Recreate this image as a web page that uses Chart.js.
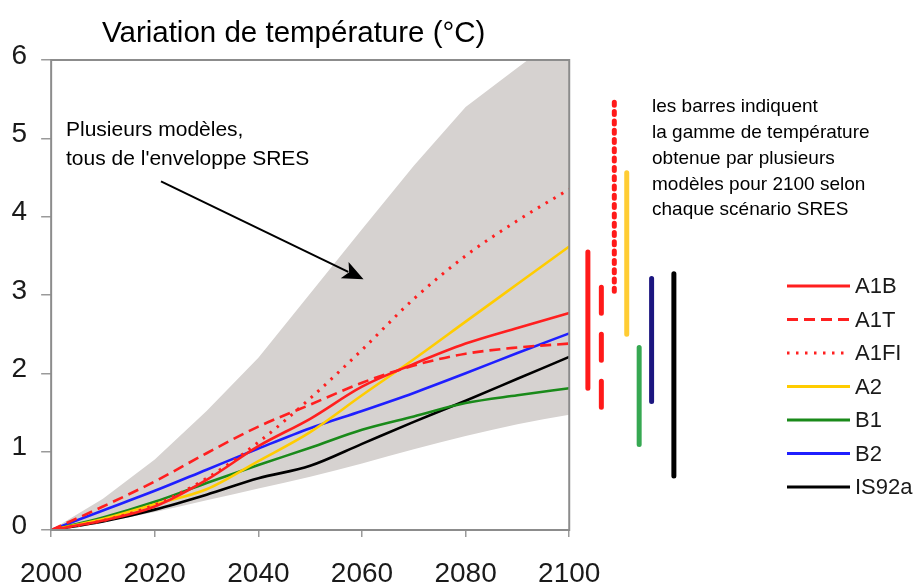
<!DOCTYPE html>
<html><head><meta charset="utf-8">
<script src="https://cdn.jsdelivr.net/npm/chart.js@4.4.1/dist/chart.umd.min.js"></script>
<style>html,body{margin:0;padding:0;background:#fff;}#wrap{position:relative;width:919px;height:586px;}</style>
</head><body><div id="wrap"><canvas id="c"></canvas></div>
<script>
// ---- data ----
const years = [2000, 2010, 2020, 2030, 2040, 2050, 2060, 2070, 2080, 2090, 2100];
const envelopeHigh = [0, 0.4, 0.9, 1.52, 2.2, 3.02, 3.84, 4.65, 5.4, 5.9, 6.4];
const envelopeLow  = [0, 0.1, 0.23, 0.38, 0.53, 0.68, 0.85, 1.03, 1.2, 1.35, 1.47];
const seriesA1B   = [0, 0.12, 0.30, 0.64, 1.07, 1.42, 1.83, 2.12, 2.38, 2.58, 2.77];
const seriesA1T   = [0, 0.30, 0.62, 0.98, 1.32, 1.60, 1.88, 2.10, 2.25, 2.33, 2.38];
const seriesA1FI  = [0, 0.12, 0.32, 0.66, 1.12, 1.68, 2.30, 2.95, 3.50, 3.95, 4.35];
const seriesA2    = [0, 0.14, 0.33, 0.52, 0.88, 1.25, 1.72, 2.18, 2.66, 3.14, 3.62];
const seriesB1    = [0, 0.16, 0.36, 0.60, 0.83, 1.05, 1.28, 1.45, 1.62, 1.72, 1.81];
const seriesB2    = [0, 0.25, 0.50, 0.77, 1.04, 1.30, 1.52, 1.75, 2.00, 2.26, 2.51];
const seriesIS92a = [0, 0.11, 0.26, 0.45, 0.66, 0.82, 1.10, 1.38, 1.65, 1.93, 2.21];
const scenarioNames = ['A1B', 'A1T', 'A1FI', 'A2', 'B1', 'B2', 'IS92a'];
// 2100 model ranges per scenario (bars right of the plot), x = position on year axis
const rangeYear = [2103.6, 2106.2, 2108.7, 2111.1, 2113.5, 2115.9, 2120.2];
const rangeLow  = [1.81, 1.47, 3.01, 2.50, 1.09, 1.64, 0.69];
const rangeHigh = [3.55, 3.10, 5.46, 4.56, 2.33, 3.21, 3.27];
const xTickValues = [2000, 2020, 2040, 2060, 2080, 2100];
const yTickValues = [0, 1, 2, 3, 4, 5, 6];
const titleText = 'Variation de température (°C)';
const noteLeft = ['Plusieurs modèles,', "tous de l'enveloppe SRES"];
const noteRight = ['les barres indiquent', 'la gamme de température', 'obtenue par plusieurs', 'modèles pour 2100 selon', 'chaque scénario SRES'];

// ---- styles ----
const FONT = '"Liberation Sans", Arial, sans-serif';
const lineStyles = {
  A1B:   {color: '#ff1f1f', dash: [], cap: 'butt'},
  A1T:   {color: '#ff1f1f', dash: [11, 6], cap: 'butt'},
  A1FI:  {color: '#ff1f1f', dash: [2.5, 6.5], cap: 'butt'},
  A2:    {color: '#ffcc00', dash: [], cap: 'butt'},
  B1:    {color: '#1a8a1a', dash: [], cap: 'butt'},
  B2:    {color: '#1f1fff', dash: [], cap: 'butt'},
  IS92a: {color: '#000000', dash: [], cap: 'butt'}
};
const barStyles = {
  A1B:   {color: '#ff1a1a', dash: []},
  A1T:   {color: '#ff1a1a', dash: [26, 21]},
  A1FI:  {color: '#ff1a1a', dash: [3, 6.3]},
  A2:    {color: '#ffcc33', dash: []},
  B1:    {color: '#36a852', dash: []},
  B2:    {color: '#1c1680', dash: []},
  IS92a: {color: '#000000', dash: []}
};
const seriesData = {A1B: seriesA1B, A1T: seriesA1T, A1FI: seriesA1FI, A2: seriesA2, B1: seriesB1, B2: seriesB2, IS92a: seriesIS92a};

const pts = arr => years.map((y, i) => ({x: y, y: arr[i]}));

const datasets = [];
datasets.push({label: 'envHigh', data: pts(envelopeHigh), borderWidth: 0, pointRadius: 0, fill: false, order: 100});
datasets.push({label: 'envLow', data: pts(envelopeLow), borderWidth: 0, pointRadius: 0, fill: '-1', backgroundColor: '#d6d2d0', order: 99, cubicInterpolationMode: 'monotone'});
scenarioNames.forEach(n => {
  datasets.push({label: n, data: pts(seriesData[n]), borderColor: lineStyles[n].color, borderDash: lineStyles[n].dash,
    borderWidth: n === 'A1FI' ? 3 : 2.6, pointRadius: 0, fill: false, cubicInterpolationMode: 'monotone', borderCapStyle: lineStyles[n].cap});
});
scenarioNames.forEach((n, i) => {
  datasets.push({label: 'range ' + n, data: [{x: rangeYear[i], y: rangeHigh[i]}, {x: rangeYear[i], y: rangeLow[i]}],
    borderColor: barStyles[n].color, borderDash: barStyles[n].dash, borderWidth: 5, borderCapStyle: 'round',
    pointRadius: 0, fill: false});
});

const decor = {
  id: 'decor',
  afterDraw(chart) {
    const ctx = chart.ctx, xs = chart.scales.x, ys = chart.scales.y;
    ctx.save();
    // frame
    const x0 = xs.getPixelForValue(2000), x1 = xs.getPixelForValue(2100);
    const y0 = ys.getPixelForValue(6), y1 = ys.getPixelForValue(0);
    ctx.strokeStyle = '#8c8c8c'; ctx.lineWidth = 2;
    ctx.strokeRect(x0, y0, x1 - x0, y1 - y0);
    // title
    ctx.fillStyle = '#000';
    ctx.font = '29.5px ' + FONT; ctx.textBaseline = 'alphabetic'; ctx.textAlign = 'left';
    ctx.fillText(titleText, 102, 42);
    // left note
    ctx.font = '21px ' + FONT;
    ctx.fillText(noteLeft[0], 66, 136);
    ctx.fillText(noteLeft[1], 66, 165);
    // arrow (anchored in data space)
    const ax0 = xs.getPixelForValue(2021.2), ay0 = ys.getPixelForValue(4.45);
    const ax1 = xs.getPixelForValue(2060.3), ay1 = ys.getPixelForValue(3.20);
    const ang = Math.atan2(ay1 - ay0, ax1 - ax0);
    const L = 21, W = 9;
    const bx = ax1 - L * Math.cos(ang), by = ay1 - L * Math.sin(ang);
    ctx.strokeStyle = '#000'; ctx.lineWidth = 2;
    ctx.beginPath(); ctx.moveTo(ax0, ay0); ctx.lineTo(bx + 4 * Math.cos(ang), by + 4 * Math.sin(ang)); ctx.stroke();
    ctx.beginPath();
    ctx.moveTo(ax1, ay1);
    ctx.lineTo(bx - W * Math.sin(ang), by + W * Math.cos(ang));
    ctx.lineTo(bx + 5 * Math.cos(ang), by + 5 * Math.sin(ang));
    ctx.lineTo(bx + W * Math.sin(ang), by - W * Math.cos(ang));
    ctx.closePath(); ctx.fillStyle = '#000'; ctx.fill();
    // right note
    ctx.font = '19px ' + FONT; ctx.textBaseline = 'middle';
    noteRight.forEach((t, i) => ctx.fillText(t, 652, 107 + i * 25.8));
    // legend
    ctx.font = '22px ' + FONT;
    scenarioNames.forEach((n, i) => {
      const y = 286 + i * 33.5;
      ctx.strokeStyle = lineStyles[n].color; ctx.lineWidth = 3;
      ctx.setLineDash(lineStyles[n].dash); ctx.lineCap = 'butt';
      ctx.beginPath(); ctx.moveTo(787, y); ctx.lineTo(850, y); ctx.stroke();
      ctx.setLineDash([]);
      ctx.fillStyle = '#1a1a1a';
      ctx.fillText(n, 855, y + 1);
    });
    ctx.restore();
  }
};

new Chart(document.getElementById('c'), {
  type: 'line',
  data: {datasets},
  options: {
    responsive: true, maintainAspectRatio: false, animation: false,
    layout: {padding: {left: 0, top: 60, right: 220.25, bottom: 0}},
    plugins: {legend: {display: false}, tooltip: {enabled: false}, title: {display: false},
      filler: {drawTime: 'beforeDatasetsDraw'}},
    scales: {
      x: {type: 'linear', min: 2000, max: 2125,
        afterBuildTicks: s => { s.ticks = xTickValues.map(v => ({value: v})); },
        afterFit: s => { s.height = 56; },
        ticks: {font: {size: 28, family: FONT}, color: '#1a1a1a', padding: 20, maxRotation: 0, autoSkip: false,
          callback: v => String(v)},
        grid: {drawOnChartArea: false, drawTicks: true, tickLength: 7, color: '#9a9a9a', lineWidth: 1.5},
        border: {display: false}},
      y: {min: 0, max: 6,
        afterBuildTicks: s => { s.ticks = yTickValues.map(v => ({value: v})); },
        afterFit: s => { s.width = 50; },
        ticks: {font: {size: 28, family: FONT}, color: '#1a1a1a', padding: 14, labelOffset: -4,
          callback: v => String(v)},
        grid: {drawOnChartArea: false, drawTicks: true, tickLength: 10, color: '#9a9a9a', lineWidth: 1.5},
        border: {display: false}}
    }
  },
  plugins: [decor]
});
</script></body></html>
